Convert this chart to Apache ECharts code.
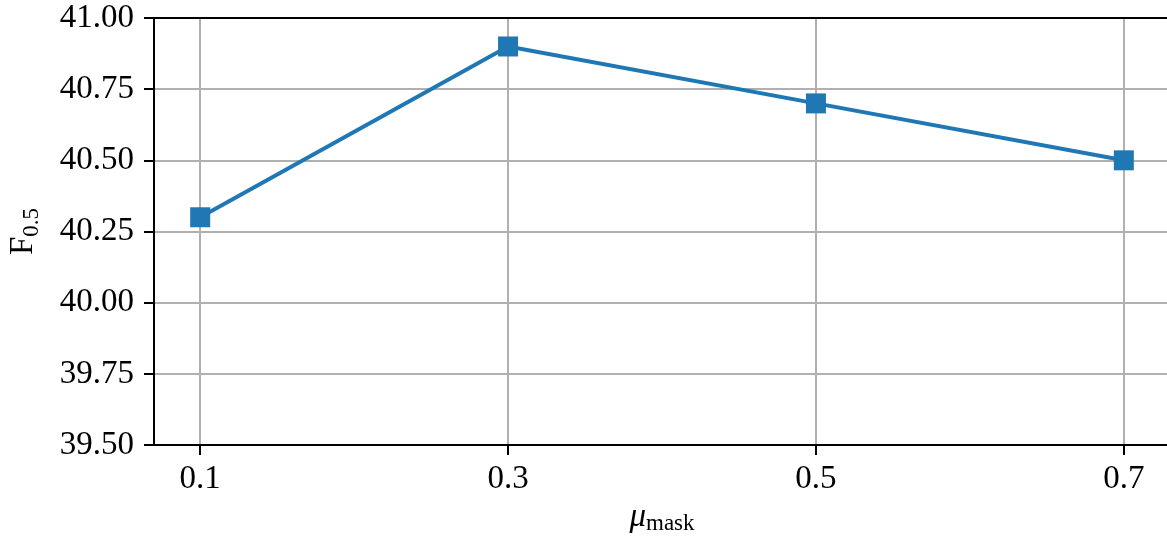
<!DOCTYPE html>
<html><head><meta charset="utf-8">
<script src="https://cdn.jsdelivr.net/npm/echarts@6/dist/echarts.min.js"></script>
<style>html,body{margin:0;padding:0;background:#fff}#c{width:1167px;height:536px}</style>
</head><body><div id="c"></div>
<script>
const xValues = [0.1, 0.3, 0.5, 0.7];
const f05 = [40.3, 40.9, 40.7, 40.5];
const xTicks = [0.1, 0.3, 0.5, 0.7];
const yTicks = [39.5, 39.75, 40.0, 40.25, 40.5, 40.75, 41.0];

const FONT = 'Liberation Serif';
const chart = echarts.init(document.getElementById('c'), null, {renderer: 'canvas'});
chart.setOption({
  animation: false,
  backgroundColor: '#fff',
  grid: {left: 154, right: -3, top: 18, bottom: 91, show: false, containLabel: false, outerBoundsMode: 'none'},
  xAxis: [{
    type: 'value', min: 0.07, max: 0.73,
    axisLine: {show: true, onZero: false, lineStyle: {color: '#000', width: 2}},
    axisTick: {show: true, length: 10, inside: false, customValues: xTicks, lineStyle: {color: '#000', width: 2}},
    axisLabel: {customValues: xTicks, formatter: v => v.toFixed(1), fontFamily: FONT, fontSize: 33, color: '#000', margin: 18},
    splitLine: {show: true, lineStyle: {color: '#b0b0b0', width: 2}},
    name: '{a|μ}{b|mask}', nameLocation: 'middle', nameGap: 52,
    nameTextStyle: {rich: {
      a: {fontFamily: FONT, fontSize: 33, fontStyle: 'italic', color: '#000'},
      b: {fontFamily: FONT, fontSize: 23, color: '#000', padding: [14, 0, 0, 0]}
    }}
  }, {
    type: 'value', min: 0.07, max: 0.73, position: 'top', z: 5,
    axisLine: {show: true, onZero: false, lineStyle: {color: '#000', width: 2}},
    axisTick: {show: false}, axisLabel: {show: false}, splitLine: {show: false}
  }],
  yAxis: {
    type: 'value', min: 39.5, max: 41.0, interval: 0.25,
    axisLine: {show: true, lineStyle: {color: '#000', width: 2}},
    axisTick: {show: true, length: 10, inside: false, lineStyle: {color: '#000', width: 2}},
    axisLabel: {formatter: v => v.toFixed(2), fontFamily: FONT, fontSize: 33, color: '#000', margin: 20},
    splitLine: {show: true, lineStyle: {color: '#b0b0b0', width: 2}},
    name: '{a|F}{b|0.5}', nameLocation: 'middle', nameGap: 111, nameRotate: 90,
    nameTextStyle: {rich: {
      a: {fontFamily: FONT, fontSize: 33, color: '#000'},
      b: {fontFamily: FONT, fontSize: 23, color: '#000', padding: [16, 0, 0, 0]}
    }}
  },
  series: [{
    type: 'line',
    data: xValues.map((x, i) => [x, f05[i]]),
    symbol: 'rect', symbolSize: 20,
    lineStyle: {color: '#1f77b4', width: 4},
    itemStyle: {color: '#1f77b4'},
    z: 6
  }]
});
</script></body></html>
